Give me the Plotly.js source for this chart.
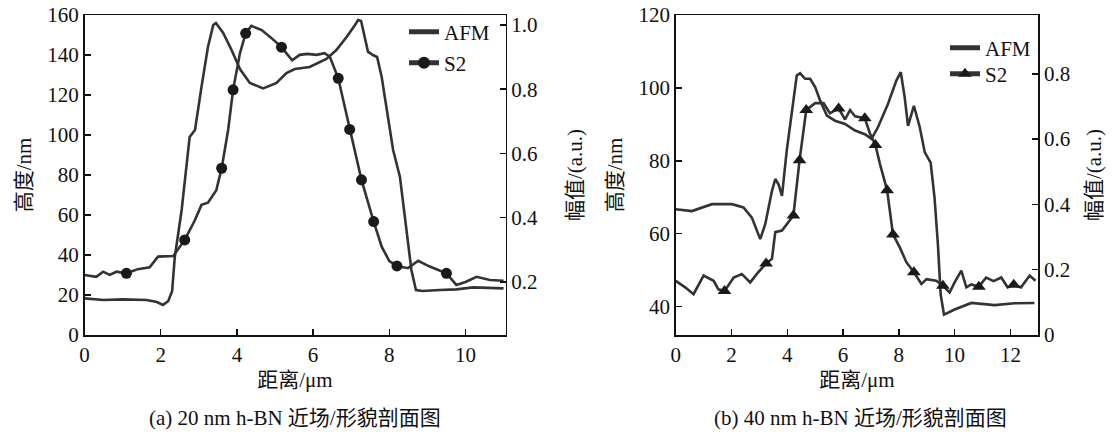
<!DOCTYPE html>
<html>
<head>
<meta charset="utf-8">
<script src="https://cdn.plot.ly/plotly-3.0.1.min.js"></script>
<style>html,body{margin:0;padding:0;background:#fff;}#chart{width:1114px;height:434px;}</style>
</head>
<body>
<div id="chart"></div>
<script>
// ---------- Panel (a): 20 nm h-BN ----------
const afmA_x = [0, 0.5, 1.0, 1.63, 1.9, 2.06, 2.2, 2.3, 2.37, 2.55, 2.76, 2.9, 3.07, 3.24, 3.38, 3.45, 3.64, 3.86, 4.08, 4.34, 4.69, 5.04, 5.3, 5.52, 5.91, 6.35, 6.61, 6.88, 7.1, 7.18, 7.26, 7.44, 7.57, 7.68, 7.8, 7.93, 8.1, 8.28, 8.45, 8.58, 8.7, 8.87, 9.33, 9.76, 10.2, 10.6, 11.0];
const afmA_y = [18.3, 17.5, 17.8, 17.5, 16.5, 15, 17, 22, 39, 62.5, 99, 102.5, 124, 144, 155, 156, 151, 142.5, 133, 126, 123.3, 126, 131, 133, 134, 138, 142.5, 149, 155, 157.5, 157, 141.7, 140, 139, 129, 112.5, 92.5, 79, 54, 32.5, 22.5, 22, 22.5, 22.8, 23.8, 23.5, 23.3];
const s2A_x = [0, 0.31, 0.49, 0.66, 0.84, 1.1, 1.4, 1.71, 1.93, 2.33, 2.63, 2.9, 3.07, 3.24, 3.46, 3.6, 3.77, 3.9, 4.08, 4.23, 4.38, 4.65, 4.91, 5.17, 5.45, 5.65, 5.85, 6.09, 6.3, 6.44, 6.66, 6.96, 7.27, 7.59, 7.8, 8.0, 8.2, 8.49, 8.76, 9.06, 9.5, 9.76, 10.0, 10.29, 10.64, 11.0];
const s2A_v = [0.222, 0.216, 0.232, 0.222, 0.232, 0.227, 0.24, 0.246, 0.279, 0.281, 0.331, 0.393, 0.44, 0.447, 0.486, 0.554, 0.673, 0.798, 0.912, 0.974, 0.997, 0.984, 0.959, 0.931, 0.89, 0.907, 0.91, 0.907, 0.912, 0.901, 0.834, 0.675, 0.518, 0.388, 0.31, 0.265, 0.25, 0.243, 0.266, 0.248, 0.227, 0.191, 0.2, 0.216, 0.206, 0.204];
const s2A_marked = [1.1, 2.63, 3.6, 3.9, 4.23, 5.17, 6.66, 6.96, 7.27, 7.59, 8.2, 9.5];

// ---------- Panel (b): 40 nm h-BN ----------
const afmB_x = [0, 0.58, 1.3, 2.02, 2.43, 2.73, 3.03, 3.21, 3.45, 3.57, 3.69, 3.81, 3.98, 4.16, 4.34, 4.46, 4.64, 4.82, 5.0, 5.18, 5.42, 5.71, 6.07, 6.43, 6.78, 7.02, 7.25, 7.61, 7.91, 8.07, 8.21, 8.33, 8.54, 8.75, 8.93, 9.14, 9.28, 9.4, 9.5, 9.62, 10.0, 10.6, 11.43, 12.15, 12.86];
const afmB_y = [66.7, 66.2, 68.1, 68.1, 67.2, 64.4, 58.5, 62.6, 71.7, 75, 73.5, 70.4, 82.7, 93.8, 103.4, 104, 102.5, 102.5, 100.2, 96.5, 92.4, 91, 90.1, 88.3, 87.3, 86, 89.2, 95.6, 102, 104.3, 97.4, 89.6, 95.1, 89.2, 82.3, 79.5, 69.9, 57.1, 43.3, 37.8, 39.2, 41, 40.4, 40.9, 41];
const s2B_x = [0, 0.34, 0.64, 1.0, 1.36, 1.53, 1.75, 2.08, 2.37, 2.67, 2.91, 3.24, 3.45, 3.57, 3.81, 3.99, 4.22, 4.44, 4.68, 5.0, 5.3, 5.53, 5.84, 6.07, 6.25, 6.43, 6.78, 6.96, 7.16, 7.32, 7.58, 7.79, 8.03, 8.27, 8.54, 8.81, 8.99, 9.34, 9.58, 9.82, 10.0, 10.24, 10.42, 10.6, 10.87, 11.13, 11.4, 11.67, 11.9, 12.12, 12.38, 12.69, 12.9];
const s2B_v = [0.166, 0.146, 0.125, 0.182, 0.166, 0.14, 0.135, 0.176, 0.187, 0.161, 0.187, 0.219, 0.233, 0.315, 0.32, 0.341, 0.366, 0.535, 0.689, 0.71, 0.71, 0.679, 0.694, 0.66, 0.689, 0.67, 0.664, 0.618, 0.582, 0.525, 0.443, 0.308, 0.269, 0.223, 0.192, 0.156, 0.171, 0.166, 0.151, 0.13, 0.161, 0.197, 0.146, 0.155, 0.148, 0.176, 0.165, 0.176, 0.146, 0.154, 0.146, 0.182, 0.166];
const s2B_marked = [1.75, 3.24, 4.22, 4.44, 4.68, 5.84, 6.78, 7.16, 7.58, 7.79, 8.54, 9.58, 10.87, 12.12];

// ---------- Text ----------
const seriesNames = ['AFM', 'S2'];
const yTitleLeft = '高度/nm';
const yTitleRight = '幅值/(a.u.)';
const xTitle = '距离/μm';
const captions = ['(a) 20 nm h-BN 近场/形貌剖面图', '(b) 40 nm h-BN 近场/形貌剖面图'];

const FONT = 'Liberation Serif, "Times New Roman", "Noto Sans CJK SC", serif';
const LINE = '#333';
const MK = '#1a1a1a';
const W = 1114;

function sizes(xs, marked, s) { return xs.map(x => marked.includes(x) ? s : 0); }

const traces = [
  {x: afmA_x, y: afmA_y, xaxis: 'x', yaxis: 'y', mode: 'lines', name: seriesNames[0], showlegend: true,
   line: {color: LINE, width: 2.6}, legend: 'legend'},
  {x: s2A_x, y: s2A_v, xaxis: 'x', yaxis: 'y2', mode: 'lines+markers', name: seriesNames[1], showlegend: true,
   line: {color: LINE, width: 2.6},
   marker: {color: MK, opacity: 1, size: sizes(s2A_x, s2A_marked, 11), symbol: 'circle', line: {width: 0}},
   legend: 'legend2'},
  {x: afmB_x, y: afmB_y, xaxis: 'x2', yaxis: 'y3', mode: 'lines', name: seriesNames[0], showlegend: true,
   line: {color: LINE, width: 2.6}, legend: 'legend3'},
  {x: s2B_x, y: s2B_v, xaxis: 'x2', yaxis: 'y4', mode: 'lines+markers', name: seriesNames[1], showlegend: true,
   line: {color: LINE, width: 2.6},
   marker: {color: MK, opacity: 1, size: sizes(s2B_x, s2B_marked, 12), symbol: 'triangle-up', line: {width: 0}},
   legend: 'legend4'}
];

const TICKSZ = 21;
const axBase = {showline: true, linecolor: '#111', linewidth: 1.5, ticks: 'inside', ticklen: 6, tickwidth: 1.5,
  tickcolor: '#111', showgrid: false, zeroline: false, tickfont: {family: FONT, size: TICKSZ, color: '#111'}};
const tFont = {family: FONT, size: 21, color: '#111'};
const lgBase = {xanchor: 'left', yanchor: 'middle', bgcolor: 'rgba(0,0,0,0)', borderwidth: 0,
  font: {family: FONT, size: 21, color: '#111'}, itemsizing: 'constant', visible: true};

const layout = {
  width: 1114, height: 434,
  showlegend: true,
  margin: {l: 0, r: 0, t: 15, b: 99},
  paper_bgcolor: '#fff', plot_bgcolor: '#fff',
  font: {family: FONT, size: 21, color: '#111'},
  xaxis: Object.assign({}, axBase, {domain: [84.5 / W, 505.5 / W], anchor: 'y', range: [0, 11.05], dtick: 2, tick0: 0,
    mirror: true, title: {text: xTitle, font: tFont, standoff: 6}}),
  yaxis: Object.assign({}, axBase, {domain: [0, 1], anchor: 'x', range: [0, 160], dtick: 20,
    title: {text: yTitleLeft, font: tFont, standoff: 10}}),
  yaxis2: Object.assign({}, axBase, {overlaying: 'y', side: 'right', anchor: 'x', range: [0.035, 1.031],
    tickvals: [0.2, 0.4, 0.6, 0.8, 1.0], tickformat: '.1f', title: {text: yTitleRight, font: tFont, standoff: 30}}),
  xaxis2: Object.assign({}, axBase, {domain: [675.7 / W, 1038.3 / W], anchor: 'y3', range: [0, 13], dtick: 2, tick0: 0,
    mirror: true, title: {text: xTitle, font: tFont, standoff: 6}}),
  yaxis3: Object.assign({}, axBase, {domain: [0, 1], anchor: 'x2', range: [32.2, 120], dtick: 20,
    title: {text: yTitleLeft, font: tFont, standoff: 10}}),
  yaxis4: Object.assign({}, axBase, {overlaying: 'y3', side: 'right', anchor: 'x2', range: [0, 0.98], dtick: 0.2,
    title: {text: yTitleRight, font: tFont, standoff: 16}}),
  legend: Object.assign({}, lgBase, {x: 404 / W, y: (335 - 32) / 320}),
  legend2: Object.assign({}, lgBase, {x: 404 / W, y: (335 - 63) / 320}),
  legend3: Object.assign({}, lgBase, {x: 945 / W, y: (335 - 48) / 320}),
  legend4: Object.assign({}, lgBase, {x: 945 / W, y: (335 - 74) / 320}),
  annotations: [
    {text: captions[0], xref: 'paper', yref: 'paper', x: 295 / W, y: -0.259, xanchor: 'center', yanchor: 'middle',
     showarrow: false, font: {family: FONT, size: 21, color: '#111'}},
    {text: captions[1], xref: 'paper', yref: 'paper', x: 860 / W, y: -0.259, xanchor: 'center', yanchor: 'middle',
     showarrow: false, font: {family: FONT, size: 21, color: '#111'}}
  ]
};

Plotly.newPlot('chart', traces, layout, {displayModeBar: false, staticPlot: true});
</script>
</body>
</html>
